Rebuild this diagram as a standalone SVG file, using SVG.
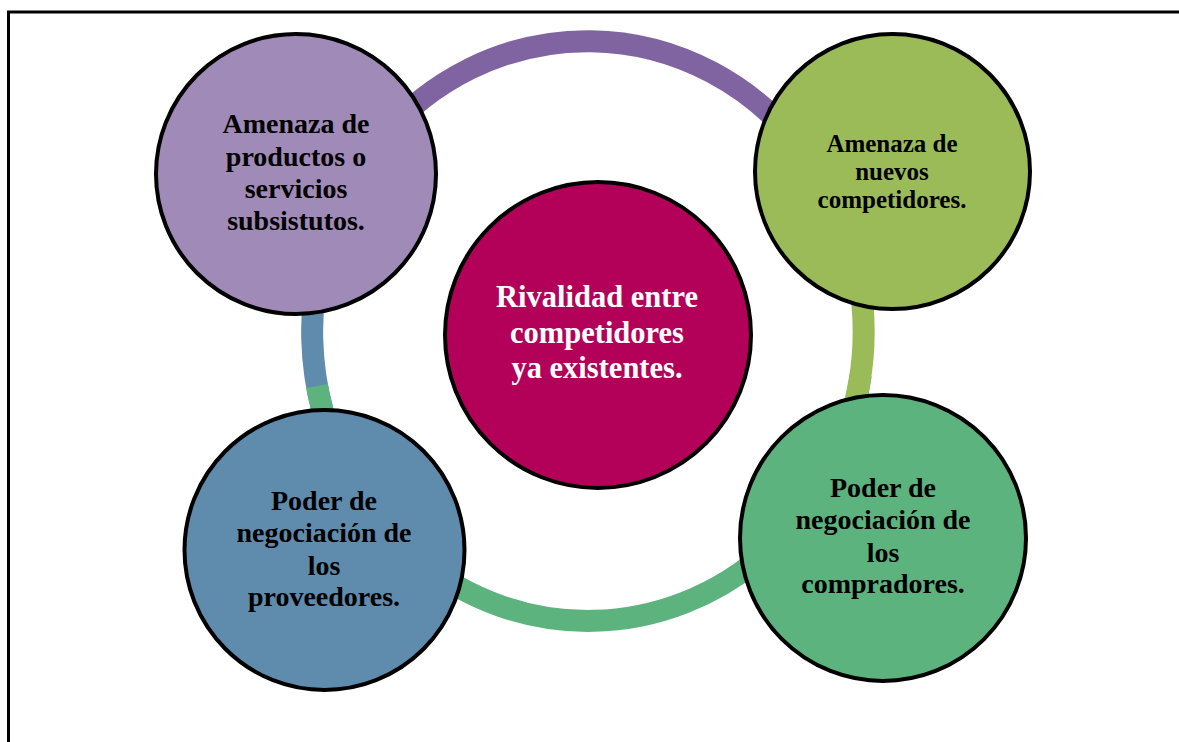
<svg xmlns="http://www.w3.org/2000/svg" width="1179" height="742" viewBox="0 0 1179 742">
<style>
.ring{fill:none;stroke-width:22}
.node{stroke:#000;stroke-width:4}
.lbl{font-family:"Liberation Serif","Times New Roman",serif;font-weight:bold;text-anchor:middle;fill:#000}
.w{fill:#fff}
</style>
<rect width="1179" height="742" fill="#fff"/>
<path d="M8.5 742 V12 H1179" fill="none" stroke="#000" stroke-width="3"/>
<g id="connectors">
<path class="ring" stroke="#5F8BAD" d="M349 476 A276 290 0 0 1 342 200"/>
<path class="ring" stroke="#5DB37E" d="M860.8 374.8 A276 290 0 0 1 317 386"/>
<path class="ring" stroke="#9BBB59" d="M800 146 A276 290 0 0 1 847 430"/>
<path class="ring" stroke="#8064A2" d="M380 140 A276 290 0 0 1 800 146"/>
</g>
<g id="node-productos">
<circle class="node" cx="296" cy="174" r="140" fill="#A08AB8"/>
<text class="lbl" font-size="28"><tspan x="296" y="133">Amenaza de</tspan><tspan x="296" y="166">productos o</tspan><tspan x="296" y="198">servicios</tspan><tspan x="296" y="230">subsistutos.</tspan></text>
</g>
<g id="node-nuevos">
<circle class="node" cx="892.5" cy="171.5" r="137.5" fill="#9BBB59"/>
<text class="lbl" font-size="25"><tspan x="892" y="152">Amenaza de</tspan><tspan x="892" y="180">nuevos</tspan><tspan x="892" y="208">competidores.</tspan></text>
</g>
<g id="node-proveedores">
<circle class="node" cx="324.5" cy="550" r="140" fill="#5F8BAD"/>
<text class="lbl" font-size="28"><tspan x="324" y="510">Poder de</tspan><tspan x="324" y="542">negociación de</tspan><tspan x="324" y="575">los</tspan><tspan x="324" y="606">proveedores.</tspan></text>
</g>
<g id="node-compradores">
<circle class="node" cx="883" cy="538" r="143" fill="#5DB37E"/>
<text class="lbl" font-size="28"><tspan x="883" y="497">Poder de</tspan><tspan x="883" y="529">negociación de</tspan><tspan x="883" y="562">los</tspan><tspan x="883" y="593">compradores.</tspan></text>
</g>
<g id="node-rivalidad">
<circle class="node" cx="598" cy="335" r="153" fill="#B3015A"/>
<text class="lbl w" font-size="30.5"><tspan x="597" y="307">Rivalidad entre</tspan><tspan x="597" y="343">competidores</tspan><tspan x="597" y="378">ya existentes.</tspan></text>
</g>
</svg>
